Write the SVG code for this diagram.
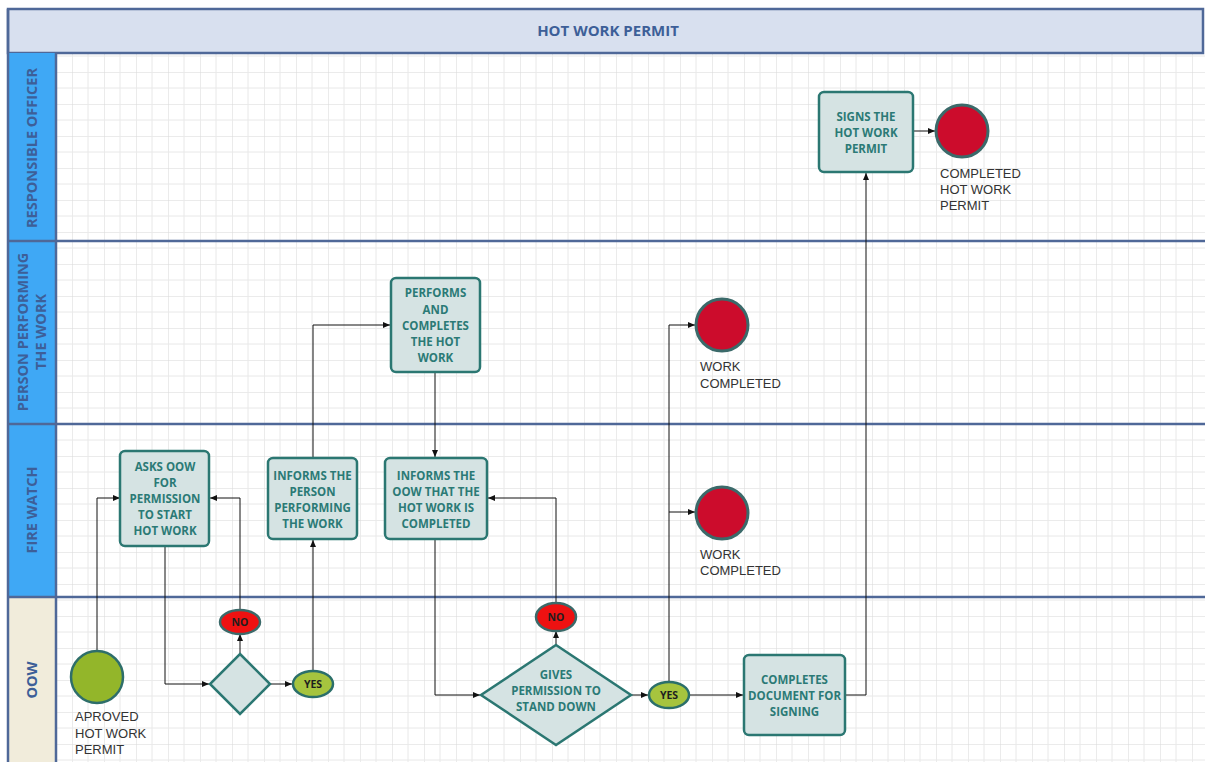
<svg xmlns="http://www.w3.org/2000/svg" width="1205" height="762" viewBox="0 0 1205 762">
<defs>
<pattern id="grid" patternUnits="userSpaceOnUse" x="8" y="8" width="32" height="32">
<path d="M0 0 V32 M0 0 H32" stroke="#d8d8d8" stroke-width="1" fill="none"/>
<path d="M16 0 V32 M0 16 H32" stroke="#e8e8e8" stroke-width="1" fill="none"/>
</pattern>
<marker id="arr" markerUnits="userSpaceOnUse" markerWidth="7" markerHeight="6" refX="7" refY="3" orient="auto">
<path d="M0,0 L7,3 L0,6 z" fill="#111"/>
</marker>
</defs>
<style>
.lane{stroke:#4f6898;stroke-width:2.5;fill:none}
.lt{font-family:"Open Sans","DejaVu Sans",sans-serif;font-weight:bold;font-size:14.5px;fill:#3d5f98;text-anchor:middle}
.box{fill:#d5e3e3;stroke:#2b7772;stroke-width:2.5}
.nt{font-family:"Open Sans","DejaVu Sans",sans-serif;font-weight:bold;font-size:11.5px;fill:#2b7a76;text-anchor:middle}
.red{fill:#cc0c2c;stroke:#3b6a6a;stroke-width:3}
.lbl{font-family:"Liberation Sans",Arial,sans-serif;font-size:13px;fill:#333}
.no{fill:#ee1111;stroke:#3b6a6a;stroke-width:2.5}
.yes{fill:#a6c43e;stroke:#2b6f6a;stroke-width:2.5}
.yn{font-family:"Open Sans","DejaVu Sans",sans-serif;font-weight:bold;font-size:10.5px;fill:#1e1e1e;text-anchor:middle}
.c{fill:none;stroke:#111;stroke-width:1;marker-end:url(#arr)}
</style>
<rect width="1205" height="762" fill="#ffffff"/>
<rect x="56" y="53" width="1149" height="709" fill="url(#grid)"/>
<g id="title">
<rect x="8" y="9" width="1195" height="44" fill="#d8e0ef" stroke="#4f6898" stroke-width="2.5"/>
<text x="608" y="36" class="lt" style="font-size:15px">HOT WORK PERMIT</text>
</g>
<g id="lanes">
<rect x="8" y="53" width="48" height="188" fill="#3fa8f5"/>
<rect x="8" y="241" width="48" height="183" fill="#3fa8f5"/>
<rect x="8" y="424" width="48" height="173" fill="#3fa8f5"/>
<rect x="8" y="597" width="48" height="165" fill="#f1ecdb"/>
<line class="lane" x1="8" y1="9" x2="8" y2="762"/>
<line class="lane" x1="56" y1="53" x2="56" y2="762"/>
<line class="lane" x1="8" y1="241" x2="1205" y2="241"/>
<line class="lane" x1="8" y1="424" x2="1205" y2="424"/>
<line class="lane" x1="8" y1="597" x2="1205" y2="597"/>
<text class="lt" transform="translate(37,148) rotate(-90)">RESPONSIBLE OFFICER</text>
<text class="lt" transform="translate(28,332) rotate(-90)">PERSON PERFORMING</text>
<text class="lt" transform="translate(46,332) rotate(-90)">THE WORK</text>
<text class="lt" transform="translate(37,510) rotate(-90)">FIRE WATCH</text>
<text class="lt" transform="translate(37,680) rotate(-90)">OOW</text>
</g>
<g id="connectors">
<polyline class="c" points="97,651 97,498 120,498"/>
<polyline class="c" points="165,546 165,684 209,684"/>
<polyline class="c" points="240,654 240,634"/>
<polyline class="c" points="240,610 240,498 210,498"/>
<polyline class="c" points="270,684 292,684"/>
<polyline class="c" points="313,670 313,540"/>
<polyline class="c" points="313,458 313,325 390,325"/>
<polyline class="c" points="435,372 435,457"/>
<polyline class="c" points="435,539 435,695 480,695"/>
<polyline class="c" points="556,645 556,631"/>
<polyline class="c" points="556,603 556,498 488,498"/>
<polyline class="c" points="631,695 648,695"/>
<polyline class="c" points="669,682 669,325 695,325"/>
<polyline class="c" points="669,512 695,512"/>
<polyline class="c" points="690,695 743,695"/>
<polyline class="c" points="846,695 866,695 866,173"/>
<polyline class="c" points="913,131 935,131"/>
</g>
<g id="start">
<circle cx="97" cy="677" r="26" fill="#93b62a" stroke="#2e6e6a" stroke-width="2.5"/>
<text class="lbl"><tspan x="75" y="721">APROVED</tspan><tspan x="75" y="738">HOT WORK</tspan><tspan x="75" y="754">PERMIT</tspan></text>
</g>
<g id="asks">
<rect class="box" x="120" y="451" width="89" height="95" rx="5"/>
<text class="nt"><tspan x="165" y="471">ASKS OOW</tspan><tspan x="165" y="487">FOR</tspan><tspan x="165" y="503">PERMISSION</tspan><tspan x="165" y="519">TO START</tspan><tspan x="165" y="535">HOT WORK</tspan></text>
</g>
<g id="decision1">
<polygon points="240,654 270,684 240,714 210,684" fill="#d5e3e3" stroke="#2b7772" stroke-width="2.5"/>
</g>
<g id="no1">
<ellipse class="no" cx="240" cy="622" rx="20" ry="12"/>
<text class="yn" x="240" y="626">NO</text>
</g>
<g id="yes1">
<ellipse class="yes" cx="313" cy="684" rx="20" ry="13"/>
<text class="yn" x="313" y="688">YES</text>
</g>
<g id="informsPerson">
<rect class="box" x="268" y="458" width="89" height="81" rx="5"/>
<text class="nt"><tspan x="312.5" y="480">INFORMS THE</tspan><tspan x="312.5" y="496">PERSON</tspan><tspan x="312.5" y="512">PERFORMING</tspan><tspan x="312.5" y="528">THE WORK</tspan></text>
</g>
<g id="performs">
<rect class="box" x="391" y="278" width="89" height="94" rx="5"/>
<text class="nt"><tspan x="435.5" y="297">PERFORMS</tspan><tspan x="435.5" y="314">AND</tspan><tspan x="435.5" y="330">COMPLETES</tspan><tspan x="435.5" y="346">THE HOT</tspan><tspan x="435.5" y="362">WORK</tspan></text>
</g>
<g id="informsOOW">
<rect class="box" x="385" y="458" width="102" height="81" rx="5"/>
<text class="nt"><tspan x="436" y="480">INFORMS THE</tspan><tspan x="436" y="496">OOW THAT THE</tspan><tspan x="436" y="512">HOT WORK IS</tspan><tspan x="436" y="528">COMPLETED</tspan></text>
</g>
<g id="decision2">
<polygon points="556,645 631,695 556,745 481,695" fill="#d5e3e3" stroke="#2b7772" stroke-width="2.5"/>
<text class="nt"><tspan x="556" y="679">GIVES</tspan><tspan x="556" y="695">PERMISSION TO</tspan><tspan x="556" y="711">STAND DOWN</tspan></text>
</g>
<g id="no2">
<ellipse class="no" cx="556" cy="617" rx="20" ry="14"/>
<text class="yn" x="556" y="621">NO</text>
</g>
<g id="yes2">
<ellipse class="yes" cx="669" cy="695" rx="20" ry="13"/>
<text class="yn" x="669" y="699">YES</text>
</g>
<g id="workCompleted1">
<circle class="red" cx="722" cy="325" r="26"/>
<text class="lbl"><tspan x="700" y="371">WORK</tspan><tspan x="700" y="388">COMPLETED</tspan></text>
</g>
<g id="workCompleted2">
<circle class="red" cx="722" cy="513" r="26"/>
<text class="lbl"><tspan x="700" y="559">WORK</tspan><tspan x="700" y="575">COMPLETED</tspan></text>
</g>
<g id="completesDoc">
<rect class="box" x="744" y="655" width="101" height="80" rx="5"/>
<text class="nt"><tspan x="794.5" y="684">COMPLETES</tspan><tspan x="794.5" y="700">DOCUMENT FOR</tspan><tspan x="794.5" y="716">SIGNING</tspan></text>
</g>
<g id="signs">
<rect class="box" x="819" y="92" width="94" height="80" rx="5"/>
<text class="nt"><tspan x="866" y="121">SIGNS THE</tspan><tspan x="866" y="137">HOT WORK</tspan><tspan x="866" y="153">PERMIT</tspan></text>
</g>
<g id="completedPermit">
<circle class="red" cx="962" cy="131" r="26"/>
<text class="lbl"><tspan x="940" y="178">COMPLETED</tspan><tspan x="940" y="194">HOT WORK</tspan><tspan x="940" y="210">PERMIT</tspan></text>
</g>
</svg>
